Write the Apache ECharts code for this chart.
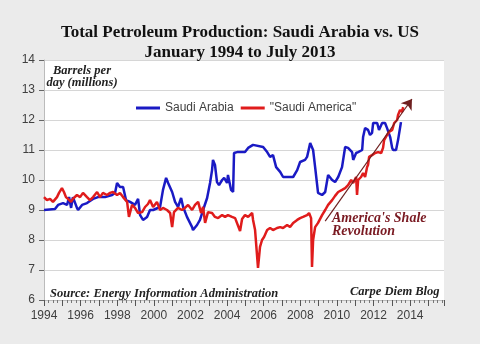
<!DOCTYPE html>
<html>
<head>
<meta charset="utf-8">
<script src="https://cdn.jsdelivr.net/npm/echarts@6/dist/echarts.min.js"></script>
<style>html,body{margin:0;padding:0;background:#ebebeb}#c{width:480px;height:344px}</style>
</head>
<body>
<div id="c"></div>
<script>
const titleLines = ['Total Petroleum Production: Saudi Arabia vs. US', 'January 1994 to July 2013'];
const seriesNames = ['Saudi Arabia', '"Saudi America"'];
const yTicks = { min: 6, max: 14, step: 1 };
const xRange = { min: 1994, max: 2015.85, step: 1 };

// [decimal year, million barrels per day]
const saudiArabia = [
  [1994.00,9.00],[1994.60,9.03],[1994.77,9.17],[1995.04,9.23],[1995.26,9.17],[1995.37,9.43],
  [1995.48,9.07],[1995.58,9.43],[1995.80,9.07],[1995.86,9.00],[1996.08,9.17],[1996.35,9.23],
  [1996.51,9.30],[1996.68,9.37],[1996.95,9.43],[1997.33,9.43],[1997.72,9.50],[1997.88,9.57],
  [1997.99,9.90],[1998.15,9.77],[1998.32,9.77],[1998.48,9.33],[1998.70,9.27],[1998.97,9.17],
  [1999.14,9.37],[1999.25,8.83],[1999.41,8.67],[1999.63,8.77],[1999.79,9.00],[1999.96,9.00],
  [2000.34,9.10],[2000.50,9.67],[2000.67,10.07],[2000.78,9.90],[2001.00,9.60],[2001.16,9.27],
  [2001.32,9.10],[2001.49,9.40],[2001.60,9.10],[2001.81,8.77],[2002.09,8.43],[2002.14,8.33],
  [2002.36,8.50],[2002.52,8.67],[2002.69,9.00],[2002.91,9.40],[2003.07,9.90],[2003.18,10.33],
  [2003.23,10.67],[2003.34,10.50],[2003.45,9.93],[2003.56,9.83],[2003.73,10.00],[2003.84,10.07],
  [2004.00,9.90],[2004.05,10.17],[2004.22,9.67],[2004.33,9.60],[2004.38,10.90],[2004.55,10.93],
  [2004.98,10.93],[2005.15,11.07],[2005.42,11.17],[2005.97,11.10],[2006.19,10.93],[2006.35,10.77],
  [2006.51,10.83],[2006.68,10.43],[2006.90,10.27],[2007.06,10.10],[2007.61,10.10],[2007.83,10.33],
  [2007.99,10.60],[2008.26,10.67],[2008.37,10.77],[2008.54,11.23],[2008.70,11.00],[2008.81,10.43],
  [2008.97,9.57],[2009.19,9.50],[2009.36,9.60],[2009.52,10.17],[2009.74,10.00],[2009.90,9.93],
  [2010.07,10.10],[2010.28,10.43],[2010.45,11.10],[2010.61,11.07],[2010.83,10.93],[2010.89,10.67],
  [2011.05,10.90],[2011.16,10.93],[2011.38,11.00],[2011.43,11.43],[2011.54,11.73],[2011.70,11.67],
  [2011.81,11.50],[2011.92,11.57],[2011.98,11.90],[2012.20,11.90],[2012.30,11.67],[2012.47,11.90],
  [2012.63,11.90],[2012.74,11.73],[2012.91,11.43],[2013.02,11.07],[2013.07,11.00],[2013.23,11.00],
  [2013.34,11.33],[2013.50,11.93]
];

const saudiAmerica = [
  [1994.00,9.43],[1994.16,9.33],[1994.33,9.37],[1994.49,9.27],[1994.71,9.43],[1994.82,9.57],
  [1994.98,9.73],[1995.09,9.60],[1995.20,9.43],[1995.31,9.37],[1995.48,9.27],[1995.58,9.37],
  [1995.80,9.50],[1995.97,9.43],[1996.13,9.57],[1996.35,9.43],[1996.51,9.33],[1996.68,9.43],
  [1996.90,9.60],[1997.06,9.43],[1997.22,9.57],[1997.44,9.50],[1997.61,9.57],[1997.77,9.60],
  [1997.99,9.50],[1998.15,9.57],[1998.32,9.43],[1998.54,9.27],[1998.64,8.77],[1998.81,9.17],
  [1998.97,9.07],[1999.14,8.90],[1999.36,8.93],[1999.52,9.10],[1999.68,9.20],[1999.79,9.33],
  [1999.96,9.10],[2000.17,9.27],[2000.34,9.00],[2000.50,9.07],[2000.72,9.00],[2000.89,8.90],
  [2001.00,8.43],[2001.10,8.93],[2001.32,9.07],[2001.54,9.00],[2001.70,9.07],[2001.87,9.17],
  [2002.09,9.00],[2002.25,9.17],[2002.42,9.27],[2002.58,8.90],[2002.69,9.10],[2002.80,8.57],
  [2002.96,8.93],[2003.18,8.90],[2003.34,8.77],[2003.51,8.73],[2003.73,8.83],[2003.89,8.77],
  [2004.05,8.83],[2004.27,8.77],[2004.44,8.73],[2004.71,8.30],[2004.82,8.70],[2004.98,8.83],
  [2005.15,8.77],[2005.37,8.90],[2005.42,8.67],[2005.53,8.33],[2005.69,7.07],[2005.80,7.77],
  [2005.91,8.00],[2006.02,8.10],[2006.19,8.33],[2006.35,8.40],[2006.51,8.33],[2006.73,8.40],
  [2006.90,8.43],[2007.06,8.40],[2007.28,8.50],[2007.44,8.43],[2007.61,8.57],[2007.83,8.67],
  [2007.99,8.73],[2008.15,8.77],[2008.37,8.83],[2008.48,8.90],[2008.59,8.73],[2008.64,7.10],
  [2008.70,8.00],[2008.81,8.43],[2008.97,8.57],[2009.19,8.83],[2009.36,9.00],[2009.52,9.17],
  [2009.74,9.33],[2009.90,9.47],[2010.07,9.60],[2010.28,9.67],[2010.45,9.73],[2010.61,9.83],
  [2010.78,10.00],[2010.89,9.90],[2011.05,10.10],[2011.10,9.50],[2011.16,10.00],[2011.32,10.10],
  [2011.43,10.23],[2011.54,10.10],[2011.65,10.43],[2011.70,10.50],[2011.76,10.77],[2011.92,10.83],
  [2012.09,10.90],[2012.25,10.93],[2012.42,10.90],[2012.52,11.07],[2012.58,11.33],[2012.74,11.50],
  [2012.85,11.60],[2013.02,11.67],[2013.13,11.90],[2013.29,12.00],[2013.34,12.17],[2013.45,12.33],
  [2013.56,12.27],[2013.62,12.43]
];

// trend arrow endpoints [year, value]
const trendArrow = [[2009.36, 8.63], [2014.10, 12.70]];
const annotation = "America's Shale\nRevolution";
const unitLabel = 'Barrels per\nday (millions)';
const sourceText = 'Source: Energy Information Administration';
const blogText = 'Carpe Diem Blog';

const chart = echarts.init(document.getElementById('c'), null, {renderer: 'canvas'});
const serifBI = {fontFamily: 'Liberation Serif', fontStyle: 'italic', fontWeight: 'bold'};

const option = {
  backgroundColor: '#ebebeb',
  animation: false,
  title: [
    {text: titleLines[0], left: 'center', top: 19, textStyle: {fontFamily: 'Liberation Serif', fontWeight: 'bold', fontSize: 17, color: '#111'}},
    {text: titleLines[1], left: 'center', top: 39, textStyle: {fontFamily: 'Liberation Serif', fontWeight: 'bold', fontSize: 17, color: '#111'}}
  ],
  legend: {
    data: seriesNames,
    left: 131, top: 97,
    itemWidth: 24, itemHeight: 3, itemGap: 7,
    icon: 'rect',
    textStyle: {fontFamily: 'Liberation Sans', fontSize: 12, color: '#404040'}
  },
  grid: {left: 44, right: 36, top: 60, bottom: 44, show: true, backgroundColor: '#ffffff', borderWidth: 0},
  xAxis: {
    type: 'value', min: xRange.min, max: xRange.max, interval: xRange.step,
    axisLine: {show: true, lineStyle: {color: '#bbb', width: 1}},
    axisTick: {show: true, length: 6, lineStyle: {color: '#555'}},
    minorTick: {show: true, splitNumber: 4, length: 3, lineStyle: {color: '#777'}},
    splitLine: {show: false},
    axisLabel: {
      color: '#404040', fontFamily: 'Liberation Sans', fontSize: 12, margin: 10,
      formatter: v => (Math.abs(v - Math.round(v)) < 1e-6 && Math.round(v) % 2 === 0) ? String(Math.round(v)) : ''
    }
  },
  yAxis: {
    type: 'value', min: yTicks.min, max: yTicks.max, interval: yTicks.step,
    axisLine: {show: true, lineStyle: {color: '#bbb'}},
    axisTick: {show: true, length: 5, lineStyle: {color: '#666'}},
    splitLine: {show: true, lineStyle: {color: '#d6d6d6', width: 1}},
    axisLabel: {color: '#404040', fontFamily: 'Liberation Sans', fontSize: 12, margin: 9}
  },
  graphic: [
    {type: 'text', x: 82, y: 65, style: Object.assign({text: unitLabel, fontSize: 12.5, lineHeight: 12, fill: '#222', align: 'center'}, serifBI), z: 10},
    {type: 'text', left: 50, top: 287, style: Object.assign({text: sourceText, fontSize: 12.5, fill: '#222'}, serifBI), z: 10},
    {type: 'text', left: 350, top: 285, style: Object.assign({text: blogText, fontSize: 12.5, fill: '#222'}, serifBI), z: 10},
    {type: 'text', left: 332, top: 211, style: Object.assign({text: annotation, fontSize: 14, lineHeight: 13, fill: '#7a1a22'}, serifBI), z: 10}
  ],
  series: [
    {name: seriesNames[0], type: 'line', data: saudiArabia, showSymbol: false, symbol: 'none',
     lineStyle: {color: '#1a1ac4', width: 2.5}, itemStyle: {color: '#1a1ac4'}, z: 3},
    {name: seriesNames[1], type: 'line', data: saudiAmerica, showSymbol: false, symbol: 'none',
     lineStyle: {color: '#e01c1c', width: 2.5}, itemStyle: {color: '#e01c1c'}, z: 4,
     markLine: {
       silent: true, symbol: ['none', 'arrow'], symbolSize: 10,
       label: {show: false},
       lineStyle: {color: '#6e2020', width: 1.2, type: 'solid'},
       emphasis: {disabled: true},
       data: [[{coord: trendArrow[0]}, {coord: trendArrow[1]}]]
     }}
  ]
};
chart.setOption(option);
</script>
</body>
</html>
